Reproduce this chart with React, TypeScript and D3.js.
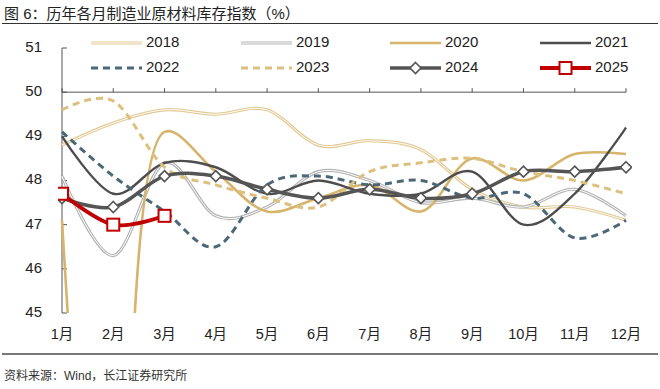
import React from 'react';
import * as d3 from 'd3';

const months = ['1月', '2月', '3月', '4月', '5月', '6月', '7月', '8月', '9月', '10月', '11月', '12月'];
const yTicks = [45, 46, 47, 48, 49, 50, 51];

const v2018 = [48.8, 49.3, 49.6, 49.5, 49.6, 48.8, 48.9, 48.7, 47.8, 47.4, 47.4, 47.1];
const v2019 = [48.1, 46.3, 48.4, 47.2, 47.4, 48.2, 48.0, 47.5, 47.6, 47.4, 47.8, 47.2];
const v2020 = [47.1, 33.9, 49.1, 48.2, 47.3, 47.6, 47.9, 47.3, 48.5, 48.0, 48.6, 48.6];
const v2021 = [49.0, 47.7, 48.4, 48.3, 47.7, 48.0, 47.7, 47.7, 48.2, 47.0, 47.7, 49.2];
const v2022 = [49.1, 48.1, 47.3, 46.5, 47.9, 48.1, 47.9, 48.0, 47.6, 47.7, 46.7, 47.1];
const v2023 = [49.6, 49.8, 48.3, 47.9, 47.6, 47.4, 48.2, 48.4, 48.5, 48.2, 48.0, 47.7];
const v2024 = [47.6, 47.4, 48.1, 48.1, 47.8, 47.6, 47.8, 47.6, 47.7, 48.2, 48.2, 48.3];
const v2025 = [47.7, 47.0, 47.2];

type Series = {
  name: string;
  values: number[];
  color: string;
  width: number;
  dash?: string;
  double?: boolean;
  marker?: 'diamond' | 'square';
  centripetal?: boolean;
};

const series: Series[] = [
  { name: '2018', values: v2018, color: '#e2c994', width: 3.2, double: true },
  { name: '2019', values: v2019, color: '#b4b4b4', width: 3.2, double: true },
  { name: '2020', values: v2020, color: '#d6b46c', width: 2.6, centripetal: true },
  { name: '2021', values: v2021, color: '#4d4d4d', width: 2.4 },
  { name: '2022', values: v2022, color: '#4b6877', width: 3, dash: '7,5' },
  { name: '2023', values: v2023, color: '#dcc07e', width: 3, dash: '7,5' },
  { name: '2024', values: v2024, color: '#555555', width: 3.5, marker: 'diamond' },
  { name: '2025', values: v2025, color: '#c00000', width: 3.8, marker: 'square' },
];

const W = 660;
const H = 389;
const left = 62;
const right = 626;
const top = 48;
const bottom = 313;
const cjk = '"Liberation Sans", Arial, "Noto Sans CJK SC", sans-serif';

export default function App() {
  const x = d3.scalePoint<string>().domain(months).range([left, right]);
  const y = d3.scaleLinear().domain([45, 51]).range([bottom, top]);

  const line = d3
    .line<number>()
    .x((_, i) => x(months[i])!)
    .y((d) => y(d))
    .curve(d3.curveCardinal.tension(0));

  // the Feb-2020 plunge would overshoot badly with a uniform spline
  const lineC = d3
    .line<number>()
    .x((_, i) => x(months[i])!)
    .y((d) => y(d))
    .curve(d3.curveCatmullRom.alpha(0.5));

  const marker = (s: Series, cx: number, cy: number, key: string) =>
    s.marker === 'diamond' ? (
      <path
        key={key}
        d={`M${cx},${cy - 5.5}L${cx + 5.5},${cy}L${cx},${cy + 5.5}L${cx - 5.5},${cy}Z`}
        fill="#fff"
        stroke={s.color}
        strokeWidth={1.6}
      />
    ) : (
      <rect key={key} x={cx - 6} y={cy - 6} width={12} height={12} fill="#fff" stroke={s.color} strokeWidth={2} />
    );

  const legendX = [91, 241, 390, 540];
  const legendY = [43, 68];

  return (
    <svg width={W} height={H} style={{ position: 'absolute', left: 0, top: 0, background: '#fff' }}>
      <defs>
        <clipPath id="plot">
          <rect x={left - 4} y={top - 6} width={right - left + 10} height={bottom - top + 6} />
        </clipPath>
      </defs>

      {/* title */}
      <text x={4} y={15} dominantBaseline="middle" fontSize={15} fill="#222" fontFamily={cjk}>
        图 6：历年各月制造业原材料库存指数（%）
      </text>
      <line x1={2} x2={658} y1={23.5} y2={23.5} stroke="#333" strokeWidth={1.2} />

      {/* y axis */}
      <line x1={left} x2={left} y1={top} y2={bottom} stroke="#555" strokeWidth={1} />
      {yTicks.map((t) => (
        <g key={t}>
          <line x1={left} x2={left + 5} y1={y(t)} y2={y(t)} stroke="#555" strokeWidth={1} />
          <text x={42} y={y(t)} textAnchor="end" dominantBaseline="middle" fontSize={15} fill="#222" fontFamily={cjk}>
            {t}
          </text>
        </g>
      ))}

      {/* category axis crossing at 50 */}
      <line x1={left} x2={right} y1={y(50)} y2={y(50)} stroke="#555" strokeWidth={1} />
      {months.map((m) => (
        <g key={m}>
          <line x1={x(m)} x2={x(m)} y1={y(50)} y2={y(50) - 4} stroke="#555" strokeWidth={1} />
          <text x={x(m)} y={335} textAnchor="middle" dominantBaseline="middle" fontSize={14.5} fill="#222" fontFamily={cjk}>
            {m}
          </text>
        </g>
      ))}

      {/* series */}
      <g clipPath="url(#plot)">
        {series.map((s) => {
          const d = (s.centripetal ? lineC : line)(s.values) || '';
          return (
            <g key={s.name}>
              <path d={d} fill="none" stroke={s.color} strokeWidth={s.width} strokeDasharray={s.dash} />
              {s.double && <path d={d} fill="none" stroke="#fff" strokeWidth={1} />}
              {s.marker && s.values.map((v, i) => marker(s, x(months[i])!, y(v), s.name + i))}
            </g>
          );
        })}
      </g>

      {/* legend */}
      {series.map((s, i) => {
        const lx = legendX[i % 4];
        const ly = legendY[Math.floor(i / 4)];
        return (
          <g key={'lg' + s.name}>
            <line x1={lx} x2={lx + 51} y1={ly} y2={ly} stroke={s.color} strokeWidth={s.width} strokeDasharray={s.dash} />
            {s.double && <line x1={lx} x2={lx + 51} y1={ly} y2={ly} stroke="#fff" strokeWidth={1} />}
            {s.marker && marker(s, lx + 25.5, ly, 'lm' + s.name)}
            <text x={lx + 55} y={ly} dominantBaseline="middle" fontSize={15} fill="#222" fontFamily={cjk}>
              {s.name}
            </text>
          </g>
        );
      })}

      {/* footer */}
      <line x1={2} x2={658} y1={354} y2={354} stroke="#777" strokeWidth={2} />
      <text x={4} y={377} dominantBaseline="middle" fontSize={12} fill="#333" fontFamily={cjk}>
        资料来源：Wind，长江证券研究所
      </text>
    </svg>
  );
}
